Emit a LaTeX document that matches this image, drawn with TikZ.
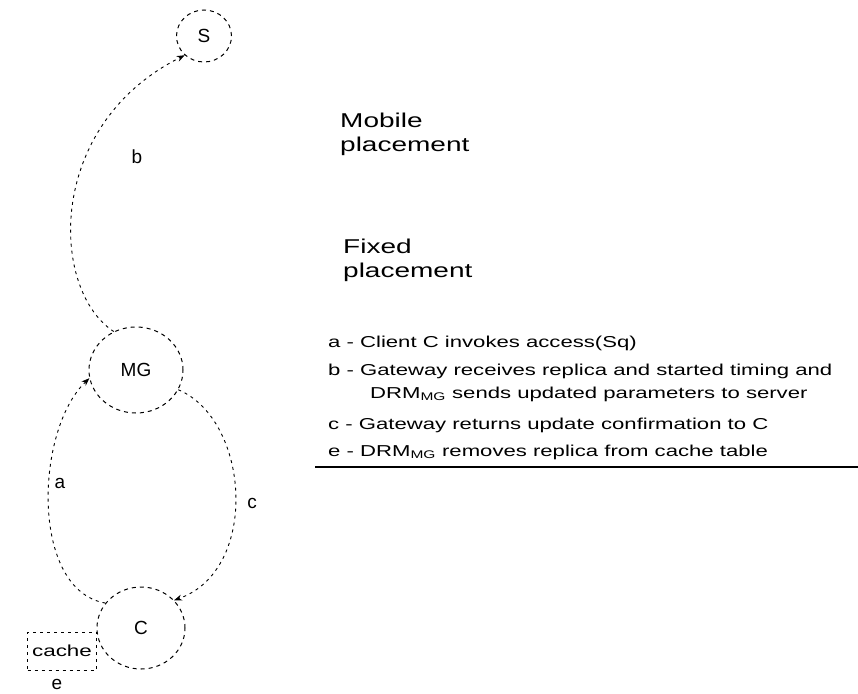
\documentclass[tikz,border=0pt]{standalone}
\usepackage{fontspec}
\setmainfont{Liberation Sans}
\newfontfamily\wfont[FakeStretch=1.4]{Liberation Sans}
\usetikzlibrary{arrows.meta,shapes.geometric}
\begin{document}
\begin{tikzpicture}[x=1pt,y=-1pt,
  flow/.style={draw, line width=0.9pt, dash pattern=on 3pt off 4pt, -{Stealth[length=8pt,width=6pt]}},
  place/.style={draw, ellipse, line width=1pt, dash pattern=on 4pt off 4pt, inner sep=0pt, font=\fontsize{19}{23}\selectfont},
  lbl/.style={inner sep=0pt, font=\fontsize{19}{23}\selectfont},
  plc/.style={anchor=base west, inner sep=0pt, font=\wfont\fontsize{20}{24}\selectfont},
  legline/.style={anchor=base west, inner sep=0pt, font=\wfont\fontsize{15.8}{20}\selectfont},
  rulestyle/.style={line width=1.6pt}
]
\useasboundingbox (0,0) rectangle (858,693);

% places
\node[place, minimum width=55, minimum height=52] (S) at (204,36) {S};
\node[place, minimum width=94, minimum height=86] (MG) at (136,370) {MG};
\node[place, minimum width=88, minimum height=82] (C) at (141,628) {C};
\node[draw, line width=0.8pt, dash pattern=on 3pt off 4pt, minimum width=69, minimum height=38, inner sep=0pt,
      font=\wfont\fontsize{16}{20}\selectfont] (cache) at (62,651) {cache};
\node[lbl] (elab) at (57,684) {e};

% connectors
\draw[flow] (MG.120) .. controls (50,290) and (45,125) .. (S.225);
\node[lbl] (bl) at (137,157) {b};
\draw[flow] (C.145) .. controls (30,590) and (35,430) .. (MG.190);
\node[lbl] (al) at (60,483) {a};
\draw[flow] (MG.335) .. controls (250,420) and (260,570) .. (C.40);
\node[lbl] (cl) at (252,503) {c};

% placement texts
\node[plc] (mob1) at (340,127) {Mobile};
\node[plc] (mob2) at (340,151) {placement};
\node[plc] (fix1) at (343,253) {Fixed};
\node[plc] (fix2) at (343,277) {placement};

% legend
\node[legline] (la) at (328,347) {a - Client C invokes access(Sq)};
\node[legline] (lb) at (328,375) {b - Gateway receives replica and started timing and};
\node[legline] (lb2) at (370,398) {DRM\textsubscript{MG} sends updated parameters to server};
\node[legline] (lc) at (328,429) {c - Gateway returns update confirmation to C};
\node[legline] (le) at (328,456) {e - DRM\textsubscript{MG} removes replica from cache table};
\coordinate (r1) at (315,467);
\coordinate (r2) at (858,467);
\draw[rulestyle] (r1) -- (r2);
\end{tikzpicture}
\end{document}
